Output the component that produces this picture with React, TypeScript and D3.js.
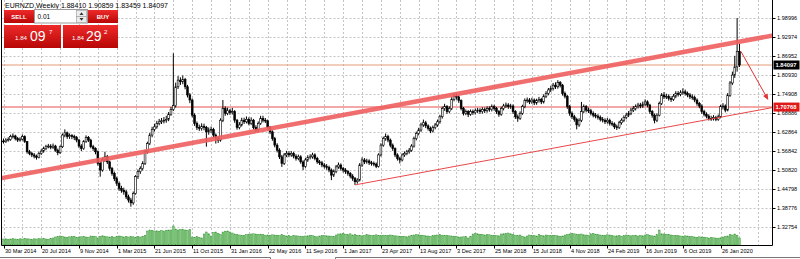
import React from "react";
import * as d3 from "d3";

// Weekly EURNZD, first bar = week of 30 Mar 2014
const firstOpen = 1.6;
const closes = [
  1.598,1.603,1.605,1.614,1.616,1.608,1.603,1.606,1.614,1.598,
  1.566,1.561,1.556,1.552,1.548,1.561,1.568,1.576,1.582,1.584,
  1.580,1.584,1.571,1.563,1.582,1.619,1.626,1.614,1.617,1.614,
  1.611,1.603,1.584,1.576,1.598,1.611,1.603,1.582,1.576,1.566,
  1.529,1.508,1.540,1.550,1.534,1.513,1.497,1.481,1.466,1.450,
  1.444,1.439,1.423,1.413,1.404,1.434,1.487,1.503,1.513,1.529,
  1.566,1.592,1.619,1.637,1.645,1.656,1.661,1.664,1.666,1.669,
  1.685,1.700,1.712,1.772,1.793,1.788,1.795,1.772,1.746,1.730,
  1.682,1.656,1.643,1.640,1.647,1.643,1.629,1.635,1.637,1.619,
  1.608,1.603,1.666,1.703,1.688,1.696,1.690,1.693,1.666,1.643,
  1.651,1.666,1.661,1.669,1.656,1.666,1.643,1.635,1.656,1.672,
  1.666,1.664,1.643,1.629,1.608,1.587,1.571,1.550,1.529,1.556,
  1.561,1.556,1.561,1.552,1.545,1.550,1.534,1.520,1.540,1.548,
  1.550,1.556,1.545,1.534,1.531,1.524,1.520,1.516,1.508,1.492,
  1.503,1.518,1.524,1.513,1.508,1.503,1.497,1.489,1.481,1.471,
  1.476,1.524,1.540,1.534,1.537,1.531,1.529,1.527,1.520,1.556,
  1.587,1.608,1.614,1.603,1.587,1.576,1.556,1.545,1.540,1.556,
  1.561,1.566,1.571,1.584,1.608,1.624,1.635,1.651,1.658,1.648,
  1.640,1.632,1.643,1.651,1.661,1.677,1.703,1.709,1.693,1.703,
  1.732,1.742,1.740,1.728,1.703,1.688,1.693,1.685,1.693,1.690,
  1.696,1.698,1.693,1.700,1.696,1.703,1.700,1.709,1.703,1.693,
  1.685,1.703,1.711,1.714,1.709,1.711,1.693,1.677,1.672,1.688,
  1.709,1.728,1.730,1.724,1.730,1.721,1.728,1.732,1.724,1.742,
  1.751,1.762,1.767,1.777,1.772,1.785,1.777,1.751,1.742,1.709,
  1.688,1.677,1.669,1.651,1.666,1.693,1.709,1.698,1.696,1.688,
  1.682,1.679,1.675,1.669,1.666,1.661,1.666,1.656,1.654,1.645,
  1.643,1.658,1.666,1.675,1.682,1.688,1.698,1.703,1.709,1.714,
  1.711,1.717,1.724,1.714,1.693,1.682,1.666,1.682,1.719,1.746,
  1.740,1.742,1.735,1.732,1.742,1.751,1.748,1.753,1.756,1.751,
  1.746,1.740,1.738,1.730,1.719,1.711,1.693,1.685,1.679,1.672,
  1.671,1.675,1.669,1.677,1.709,1.711,1.698,1.745,1.784,1.809,
  1.835,1.8841,1.84097,
];
const highs = [
  1.608,1.609,1.612,1.620,1.624,1.620,1.613,1.612,1.621,1.618,
  1.600,1.572,1.566,1.562,1.557,1.566,1.574,1.582,1.588,1.591,
  1.590,1.592,1.588,1.576,1.586,1.624,1.637,1.630,1.624,1.622,
  1.620,1.616,1.607,1.590,1.603,1.618,1.616,1.607,1.588,1.580,
  1.570,1.535,1.548,1.566,1.556,1.538,1.518,1.503,1.487,1.472,
  1.458,1.452,1.445,1.430,1.420,1.440,1.492,1.510,1.520,1.536,
  1.572,1.598,1.626,1.645,1.655,1.664,1.670,1.673,1.676,1.680,
  1.692,1.708,1.878,1.785,1.806,1.802,1.808,1.800,1.778,1.752,
  1.735,1.688,1.662,1.652,1.656,1.655,1.648,1.643,1.646,1.642,
  1.624,1.615,1.672,1.730,1.710,1.706,1.702,1.705,1.698,1.670,
  1.660,1.674,1.674,1.678,1.675,1.675,1.670,1.650,1.662,1.680,
  1.680,1.673,1.668,1.648,1.634,1.613,1.593,1.577,1.556,1.562,
  1.569,1.568,1.568,1.566,1.558,1.557,1.555,1.539,1.546,1.555,
  1.558,1.563,1.561,1.550,1.540,1.537,1.530,1.527,1.522,1.513,
  1.510,1.524,1.532,1.529,1.518,1.514,1.508,1.502,1.495,1.486,
  1.482,1.530,1.548,1.546,1.544,1.542,1.537,1.535,1.532,1.561,
  1.593,1.614,1.624,1.620,1.608,1.592,1.580,1.561,1.550,1.561,
  1.567,1.572,1.578,1.590,1.614,1.630,1.642,1.658,1.668,1.664,
  1.653,1.646,1.649,1.657,1.668,1.683,1.709,1.718,1.714,1.710,
  1.739,1.751,1.750,1.745,1.732,1.708,1.700,1.698,1.700,1.700,
  1.703,1.705,1.704,1.707,1.706,1.710,1.710,1.716,1.715,1.708,
  1.698,1.709,1.718,1.722,1.720,1.718,1.716,1.698,1.684,1.694,
  1.715,1.735,1.738,1.736,1.737,1.735,1.734,1.740,1.737,1.748,
  1.758,1.768,1.775,1.784,1.786,1.793,1.790,1.781,1.757,1.746,
  1.714,1.694,1.683,1.674,1.672,1.724,1.716,1.714,1.706,1.702,
  1.694,1.689,1.685,1.681,1.676,1.672,1.673,1.671,1.663,1.659,
  1.652,1.664,1.672,1.681,1.689,1.695,1.705,1.711,1.716,1.721,
  1.721,1.725,1.732,1.729,1.718,1.698,1.687,1.688,1.725,1.752,
  1.755,1.750,1.748,1.742,1.749,1.758,1.758,1.761,1.767,1.763,
  1.757,1.752,1.748,1.744,1.735,1.724,1.716,1.699,1.691,1.685,
  1.680,1.682,1.680,1.684,1.715,1.720,1.716,1.752,1.790,1.820,
  1.870,1.990,1.90859,
];
const lows = [
  1.592,1.594,1.598,1.601,1.608,1.602,1.597,1.598,1.602,1.594,
  1.560,1.555,1.549,1.545,1.541,1.545,1.556,1.563,1.571,1.577,
  1.574,1.575,1.566,1.555,1.559,1.578,1.612,1.607,1.607,1.606,
  1.603,1.596,1.578,1.568,1.572,1.594,1.597,1.577,1.569,1.558,
  1.522,1.487,1.503,1.534,1.527,1.506,1.490,1.473,1.458,1.442,
  1.436,1.430,1.416,1.405,1.392,1.398,1.430,1.480,1.496,1.507,
  1.524,1.560,1.587,1.612,1.630,1.639,1.650,1.654,1.656,1.658,
  1.663,1.680,1.695,1.706,1.765,1.778,1.780,1.764,1.738,1.720,
  1.675,1.648,1.635,1.632,1.633,1.634,1.582,1.620,1.626,1.611,
  1.592,1.594,1.598,1.660,1.680,1.682,1.683,1.684,1.658,1.636,
  1.637,1.646,1.654,1.656,1.650,1.651,1.637,1.628,1.630,1.651,
  1.659,1.657,1.637,1.622,1.601,1.580,1.564,1.543,1.518,1.524,
  1.549,1.549,1.550,1.545,1.538,1.539,1.528,1.508,1.515,1.534,
  1.542,1.544,1.539,1.528,1.524,1.517,1.513,1.509,1.501,1.476,
  1.486,1.498,1.512,1.506,1.500,1.496,1.490,1.482,1.474,1.461,
  1.465,1.472,1.518,1.527,1.528,1.524,1.522,1.520,1.514,1.516,
  1.551,1.582,1.601,1.596,1.580,1.569,1.549,1.538,1.529,1.535,
  1.550,1.555,1.560,1.566,1.579,1.602,1.618,1.629,1.645,1.641,
  1.633,1.625,1.627,1.637,1.645,1.655,1.671,1.696,1.686,1.688,
  1.698,1.726,1.731,1.721,1.697,1.681,1.682,1.676,1.680,1.683,
  1.684,1.689,1.686,1.687,1.689,1.690,1.693,1.694,1.696,1.686,
  1.677,1.680,1.697,1.705,1.702,1.702,1.686,1.670,1.661,1.667,
  1.683,1.704,1.721,1.717,1.718,1.714,1.715,1.722,1.717,1.719,
  1.736,1.745,1.755,1.760,1.765,1.766,1.770,1.744,1.735,1.702,
  1.680,1.670,1.661,1.637,1.645,1.660,1.688,1.691,1.689,1.681,
  1.675,1.672,1.668,1.662,1.659,1.654,1.655,1.649,1.647,1.638,
  1.635,1.638,1.652,1.660,1.669,1.676,1.682,1.692,1.697,1.703,
  1.704,1.705,1.711,1.707,1.686,1.674,1.656,1.660,1.678,1.714,
  1.733,1.733,1.728,1.724,1.727,1.736,1.741,1.742,1.747,1.744,
  1.739,1.733,1.731,1.723,1.712,1.704,1.686,1.678,1.672,1.665,
  1.664,1.665,1.663,1.664,1.672,1.700,1.691,1.694,1.740,1.778,
  1.800,1.820,1.83459,
];
const volumes = [
  60,62,58,60,64,60,58,62,60,64, 62,60,58,62,60,64,62,66,60,58,
  64,70,80,84,90,86,80,78,82,84, 88,76,80,82,86,80,76,90,88,84,
  70,86,92,88,82,80,84,78,86,90, 88,80,84,80,86,82,76,84,80,88,
  96,140,150,146,140,142,138,144,140,148, 150,150,190,160,150,156,158,150,146,154,
  80,76,84,78,70,110,130,112,90,126, 130,118,104,130,138,140,130,120,110,104,
  100,98,96,104,108,110,112,110,106,108, 104,98,100,96,102,100,98,94,104,96,
  90,96,88,94,92,90,86,84,90,92, 98,94,86,82,90,96,94,92,90,88,
  86,100,110,112,116,108,104,112,100,104, 98,96,92,96,104,100,96,98,102,96,
  96,98,94,96,100,96,92,90,88,86, 88,82,90,94,100,104,102,98,96,92,
  90,86,94,98,100,104,98,96,94,92, 90,88,84,80,80,82,86,70,84,110,
  114,112,108,106,100,104,102,98,96,94, 92,110,112,118,120,112,104,96,94,100,
  88,80,90,100,96,94,90,106,98,92, 100,96,94,98,96,92,88,90,100,104,
  110,118,112,108,104,110,102,100,96,112, 116,108,104,100,96,98,102,100,96,90,
  92,96,88,94,100,96,92,94,98,90, 96,92,100,104,96,92,90,104,150,112,
  110,108,104,100,96,98,94,90,88,92, 90,86,84,80,76,82,80,78,74,70,
  76,72,70,68,72,80,84,90,104,100, 110,98,70,
];
const priceTicks = ["1.98996","1.92974","1.86952","1.80930","1.74908","1.68886","1.62864","1.56842","1.50820","1.44798","1.38776","1.32754"];
const dateLabels = ["30 Mar 2014","20 Jul 2014","9 Nov 2014","1 Mar 2015","21 Jun 2015","11 Oct 2015","31 Jan 2016","22 May 2016","11 Sep 2016","1 Jan 2017","23 Apr 2017","13 Aug 2017","3 Dec 2017","25 Mar 2018","15 Jul 2018","4 Nov 2018","24 Feb 2019","16 Jun 2019","6 Oct 2019","26 Jan 2020"];
const lastBar = ["1.88410", "1.90859", "1.83459", "1.84097"];
const bidLevel = 1.84097;
const supportLevel = 1.70768;
// trend lines as [week index, price]
const upperChannel: [number, number][] = [[-2, 1.4807], [328, 1.937]];
const lowerChannel: [number, number][] = [[149, 1.461], [328, 1.7088]];
const arrowPts: [number, number][] = [[312.6, 1.8841], [324.2, 1.730]];
const sellPrice = ["1.84", "09", "7"];
const buyPrice = ["1.84", "29", "2"];

export default function App() {
  const x = d3.scaleLinear().domain([0, 304]).range([3.5, 720.6]);
  const y = d3.scaleLinear().domain([1.32754, 1.98996]).range([227, 18]);
  const vy = d3.scaleLinear().domain([0, 200]).range([245, 225]);
  const L = 1.5, R = 772.5, B = 245.5;
  const opens = closes.map((c, i) => (i === 0 ? firstOpen : closes[i - 1]));
  const gridWeeks = d3.range(0, 330, 8);
  const line = d3.line<[number, number]>().x((d) => x(d[0])).y((d) => y(d[1]));
  const font = "'Liberation Sans', Arial, sans-serif";

  const ax0 = x(arrowPts[0][0]), ay0 = y(arrowPts[0][1]);
  const ax1 = x(arrowPts[1][0]), ay1 = y(arrowPts[1][1]);
  const ang = Math.atan2(ay1 - ay0, ax1 - ax0);
  const hl = 6, hw = 2.6;
  const head = [
    [ax1, ay1],
    [ax1 - hl * Math.cos(ang) + hw * Math.sin(ang), ay1 - hl * Math.sin(ang) - hw * Math.cos(ang)],
    [ax1 - hl * Math.cos(ang) - hw * Math.sin(ang), ay1 - hl * Math.sin(ang) + hw * Math.cos(ang)],
  ].map((p) => p.join(",")).join(" ");

  return (
    <svg width={800} height={259} style={{ position: "absolute", left: 0, top: 0, background: "#fff" }} fontFamily={font}>
      <defs>
        <clipPath id="plot"><rect x={L} y={0} width={R - L} height={B} /></clipPath>
        <linearGradient id="red" x1="0" y1="0" x2="0" y2="1">
          <stop offset="0" stopColor="#ee2a2a" />
          <stop offset="1" stopColor="#b80606" />
        </linearGradient>
      </defs>
      <rect width={800} height={259} fill="#fff" />
      <g clipPath="url(#plot)">
        {priceTicks.map((t) => (
          <line key={t} x1={L} x2={R} y1={Math.round(y(+t)) + 0.5} y2={Math.round(y(+t)) + 0.5} stroke="#c4c4c4" strokeDasharray="2,2" />
        ))}
        {gridWeeks.map((w) => (
          <line key={w} x1={Math.round(x(w)) + 0.5} x2={Math.round(x(w)) + 0.5} y1={0} y2={B} stroke="#c4c4c4" strokeDasharray="2,2" />
        ))}
        {volumes.map((v, i) => (
          <rect key={i} x={x(i) - 0.8} width={1.6} y={vy(v)} height={vy(0) - vy(v)} fill="#86cc80" stroke="#3a983a" strokeWidth={0.5} />
        ))}
        <line x1={L} x2={R} y1={y(bidLevel)} y2={y(bidLevel)} stroke="#e59a78" strokeWidth={1} />
        <line x1={L} x2={R} y1={y(supportLevel)} y2={y(supportLevel)} stroke="#f08a8a" strokeWidth={1.4} />
        {closes.map((c, i) => {
          const o = opens[i];
          const cx = x(i);
          const top = y(Math.max(o, c));
          const h = Math.max(0.8, Math.abs(y(o) - y(c)));
          const bull = c >= o;
          return (
            <g key={i}>
              <line x1={cx} x2={cx} y1={y(highs[i])} y2={y(lows[i])} stroke="#000" strokeWidth={1} />
              <rect x={cx - 0.9} width={1.8} y={top} height={h} fill={bull ? "#fff" : "#000"} stroke="#000" strokeWidth={0.6} />
            </g>
          );
        })}
        <path d={line(upperChannel) || ""} stroke="#f05e5e" strokeOpacity={0.9} strokeWidth={4.5} fill="none" />
        <path d={line(lowerChannel) || ""} stroke="#e84848" strokeWidth={1} fill="none" />
        <line x1={ax0} y1={ay0} x2={ax1 - 4 * Math.cos(ang)} y2={ay1 - 4 * Math.sin(ang)} stroke="#e23232" strokeWidth={1} />
        <polygon points={head} fill="#e23232" />
      </g>
      {/* frame */}
      <line x1={L} x2={L} y1={0} y2={B} stroke="#000" strokeWidth={1} />
      <line x1={R} x2={R} y1={0} y2={B} stroke="#000" strokeWidth={1} />
      <line x1={L} x2={R} y1={B} y2={B} stroke="#000" strokeWidth={1} />
      {/* price axis */}
      {priceTicks.map((t) => (
        <g key={t}>
          <line x1={R} x2={R + 3} y1={Math.round(y(+t)) + 0.5} y2={Math.round(y(+t)) + 0.5} stroke="#000" />
          <text x={R + 4.5} y={y(+t) + 2} fontSize={5.6} fill="#000">{t}</text>
        </g>
      ))}
      <rect x={R + 1} y={y(bidLevel) - 4.5} width={26} height={9} fill="#000" />
      <text x={R + 3} y={y(bidLevel) + 2.1} fontSize={5.8} fontWeight="bold" fill="#fff">{bidLevel.toFixed(5)}</text>
      <rect x={R + 1} y={y(supportLevel) - 4.5} width={26} height={9} fill="#e01818" />
      <text x={R + 3} y={y(supportLevel) + 2.1} fontSize={5.8} fontWeight="bold" fill="#fff">{supportLevel.toFixed(5)}</text>
      {/* time axis */}
      {dateLabels.map((d, k) => {
        const px = Math.round(x(k * 16)) + 0.5;
        return (
          <g key={d}>
            <line x1={px} x2={px} y1={B} y2={B + 3} stroke="#000" />
            <text x={px + 0.5} y={253} fontSize={5.6} fill="#000">{d}</text>
          </g>
        );
      })}
      <path d="M0,257.5 H270.5 V259 M335.5,259 V257.5 H800" stroke="#777" fill="none" />
      {/* title */}
      <text x={5} y={7.5} fontSize={7} fill="#000">{`EURNZD,Weekly  ${lastBar.join(" ")}`}</text>
      {/* one-click trading panel */}
      <rect x={4} y={10} width={30} height={13} fill="url(#red)" />
      <text x={19} y={18.8} fontSize={6} fontWeight="bold" fill="#fff" textAnchor="middle">SELL</text>
      <rect x={34.5} y={9.5} width={53} height={13.5} fill="#fff" stroke="#9a9a9a" />
      <text x={37.5} y={18.6} fontSize={6.5} fill="#000">0.01</text>
      <rect x={76.5} y={10.5} width={10} height={6} fill="#ececec" stroke="#9a9a9a" strokeWidth={0.6} />
      <rect x={76.5} y={16.5} width={10} height={6} fill="#ececec" stroke="#9a9a9a" strokeWidth={0.6} />
      <polygon points="79.5,15 81.5,12.3 83.5,15" fill="#333" />
      <polygon points="79.5,18 81.5,20.7 83.5,18" fill="#333" />
      <rect x={88} y={10} width={30} height={13} fill="url(#red)" />
      <text x={103} y={18.8} fontSize={6} fontWeight="bold" fill="#fff" textAnchor="middle">BUY</text>
      <rect x={4} y={25} width={57} height={23} fill="url(#red)" />
      <rect x={63} y={25} width={55} height={23} fill="url(#red)" />
      <text x={15} y={40} fontSize={6.2} fill="#fff">{sellPrice[0]}</text>
      <text x={30} y={41} fontSize={14} fill="#fff">{sellPrice[1]}</text>
      <text x={49} y={33.5} fontSize={6.2} fill="#fff">{sellPrice[2]}</text>
      <text x={72} y={40} fontSize={6.2} fill="#fff">{buyPrice[0]}</text>
      <text x={86} y={41} fontSize={14} fill="#fff">{buyPrice[1]}</text>
      <text x={104} y={33.5} fontSize={6.2} fill="#fff">{buyPrice[2]}</text>
    </svg>
  );
}
